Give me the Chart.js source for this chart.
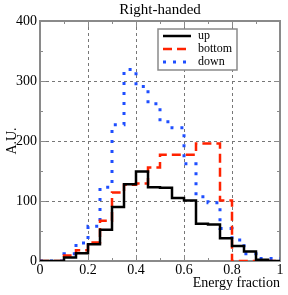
<!DOCTYPE html>
<html><head><meta charset="utf-8">
<style>html,body{margin:0;padding:0;background:#fff}#wrap{width:288px;height:295px}</style>
<script src="https://cdn.jsdelivr.net/npm/chart.js@4/dist/chart.umd.min.js"></script>
</head><body><div id="wrap"><canvas id="c" width="288" height="295"></canvas></div>
<script>
const titleText = 'Right-handed';
const xLabel = 'Energy fraction';
const yLabel = 'A.U.';
const seriesNames = ['up', 'bottom', 'down'];
const binEdges = [0, 0.05, 0.1, 0.15, 0.2, 0.25, 0.3, 0.35, 0.4, 0.45, 0.5, 0.55, 0.6, 0.65, 0.7, 0.75, 0.8, 0.85, 0.9, 0.95, 1];
const up     = [0, 0, 6, 13, 28, 52, 90, 128, 149, 123, 122, 105, 101, 62, 61, 38, 25, 16, 2, 0];
const bottom = [0, 0, 9, 18, 31, 67, 114, 127, 129, 156, 177, 177, 177, 196, 196, 101, 0, 0, 0, 0];
const down   = [0, 0, 12, 30, 58, 123, 227, 319, 291, 262, 232, 222, 162, 107, 97, 54, 35, 12, 4, 4];
const xTicks = [0, 0.2, 0.4, 0.6, 0.8, 1];
const xMinorTicks = [0.1, 0.3, 0.5, 0.7, 0.9];
const yTicks = [0, 100, 200, 300, 400];
const yMinorTicks = [50, 150, 250, 350];

const FONT = 'Liberation Serif';
const colors = ['#000000', '#ff2200', '#1f4fff'];

function stepPoints(vals) {
  const pts = [];
  for (let i = 0; i < binEdges.length; i++) {
    pts.push({x: binEdges[i], y: vals[Math.min(i, vals.length - 1)]});
  }
  return pts;
}

const framePlugin = {
  id: 'frame',
  beforeDatasetsDraw(chart) {
    const {ctx, chartArea: a, scales: {x, y}} = chart;
    ctx.save();
    ctx.strokeStyle = '#8a8a8a';
    ctx.lineWidth = 1;
    ctx.beginPath();
    const tick = (vals, len, isX) => {
      for (const v of vals) {
        if (isX) {
          const p = Math.round(x.getPixelForValue(v)) + 0.5;
          ctx.moveTo(p, a.bottom); ctx.lineTo(p, a.bottom - len);
          ctx.moveTo(p, a.top); ctx.lineTo(p, a.top + len);
        } else {
          const p = Math.round(y.getPixelForValue(v)) + 0.5;
          ctx.moveTo(a.left, p); ctx.lineTo(a.left + len, p);
          ctx.moveTo(a.right, p); ctx.lineTo(a.right - len, p);
        }
      }
    };
    tick(xTicks, 6, true); tick(xMinorTicks, 3, true);
    tick(yTicks, 6, false); tick(yMinorTicks, 3, false);
    ctx.stroke();
    ctx.lineWidth = 2;
    ctx.strokeRect(a.left, a.top, a.right - a.left, a.bottom - a.top);
    ctx.restore();
  },
  afterDraw(chart) {
    const {ctx, chartArea: a} = chart;
    ctx.save();
    ctx.fillStyle = '#000';
    ctx.font = '15px "' + FONT + '"';
    ctx.textAlign = 'center';
    ctx.textBaseline = 'middle';
    ctx.fillText(titleText, (a.left + a.right) / 2, 10);
    // legend
    const bx = a.left + 118, by = a.top + 8, bw = 79, bh = 41;
    ctx.fillStyle = '#fff';
    ctx.fillRect(bx, by, bw, bh);
    ctx.strokeStyle = '#8a8a8a';
    ctx.lineWidth = 1.5;
    ctx.strokeRect(bx, by, bw, bh);
    ctx.font = '12px "' + FONT + '"';
    ctx.textAlign = 'left';
    chart.data.datasets.forEach((ds, i) => {
      const ry = by + 7 + i * 13;
      ctx.beginPath();
      ctx.strokeStyle = ds.borderColor;
      ctx.lineWidth = ds.borderWidth;
      ctx.setLineDash(ds.borderDash || []);
      ctx.moveTo(bx + 5, ry); ctx.lineTo(bx + 33, ry);
      ctx.stroke();
      ctx.setLineDash([]);
      ctx.fillStyle = '#000';
      ctx.fillText(ds.label, bx + 40, ry);
    });
    ctx.restore();
  }
};

new Chart(document.getElementById('c'), {
  type: 'line',
  data: {
    datasets: [
      {label: seriesNames[0], data: stepPoints(up), borderColor: colors[0], borderWidth: 2.5, stepped: 'before', pointRadius: 0, fill: false},
      {label: seriesNames[1], data: stepPoints(bottom), borderColor: colors[1], borderWidth: 2.5, borderDash: [9, 5], stepped: 'before', pointRadius: 0, fill: false},
      {label: seriesNames[2], data: stepPoints(down), borderColor: colors[2], borderWidth: 3, borderDash: [3, 7], stepped: 'before', pointRadius: 0, fill: false}
    ]
  },
  options: {
    responsive: false,
    animation: false,
    layout: {padding: {top: 21, right: 8, left: 0, bottom: 0}},
    plugins: {legend: {display: false}, title: {display: false}, tooltip: {enabled: false}},
    scales: {
      x: {
        type: 'linear', min: 0, max: 1,
        afterBuildTicks: s => { s.ticks = xTicks.map(v => ({value: v})); },
        afterFit: s => { s.height = 34; },
        ticks: {color: '#000', font: {family: FONT, size: 14}, padding: 1, maxRotation: 0, autoSkip: false, callback: v => String(v)},
        grid: {color: '#777', lineWidth: 1, drawTicks: false},
        border: {display: false, dash: [3, 3]},
        title: {display: true, text: xLabel, align: 'end', color: '#000', font: {family: FONT, size: 14}, padding: {top: 0, bottom: 3}}
      },
      y: {
        type: 'linear', min: 0, max: 400,
        afterBuildTicks: s => { s.ticks = yTicks.map(v => ({value: v})); },
        afterFit: s => { s.width = 40; },
        ticks: {color: '#000', font: {family: FONT, size: 14}, padding: 3, autoSkip: false, callback: v => String(v)},
        grid: {color: '#777', lineWidth: 1, drawTicks: false},
        border: {display: false, dash: [3, 3]},
        title: {display: true, text: yLabel, color: '#000', font: {family: FONT, size: 14}, padding: {top: 4, bottom: 0}}
      }
    }
  },
  plugins: [framePlugin]
});
</script>
</body></html>
